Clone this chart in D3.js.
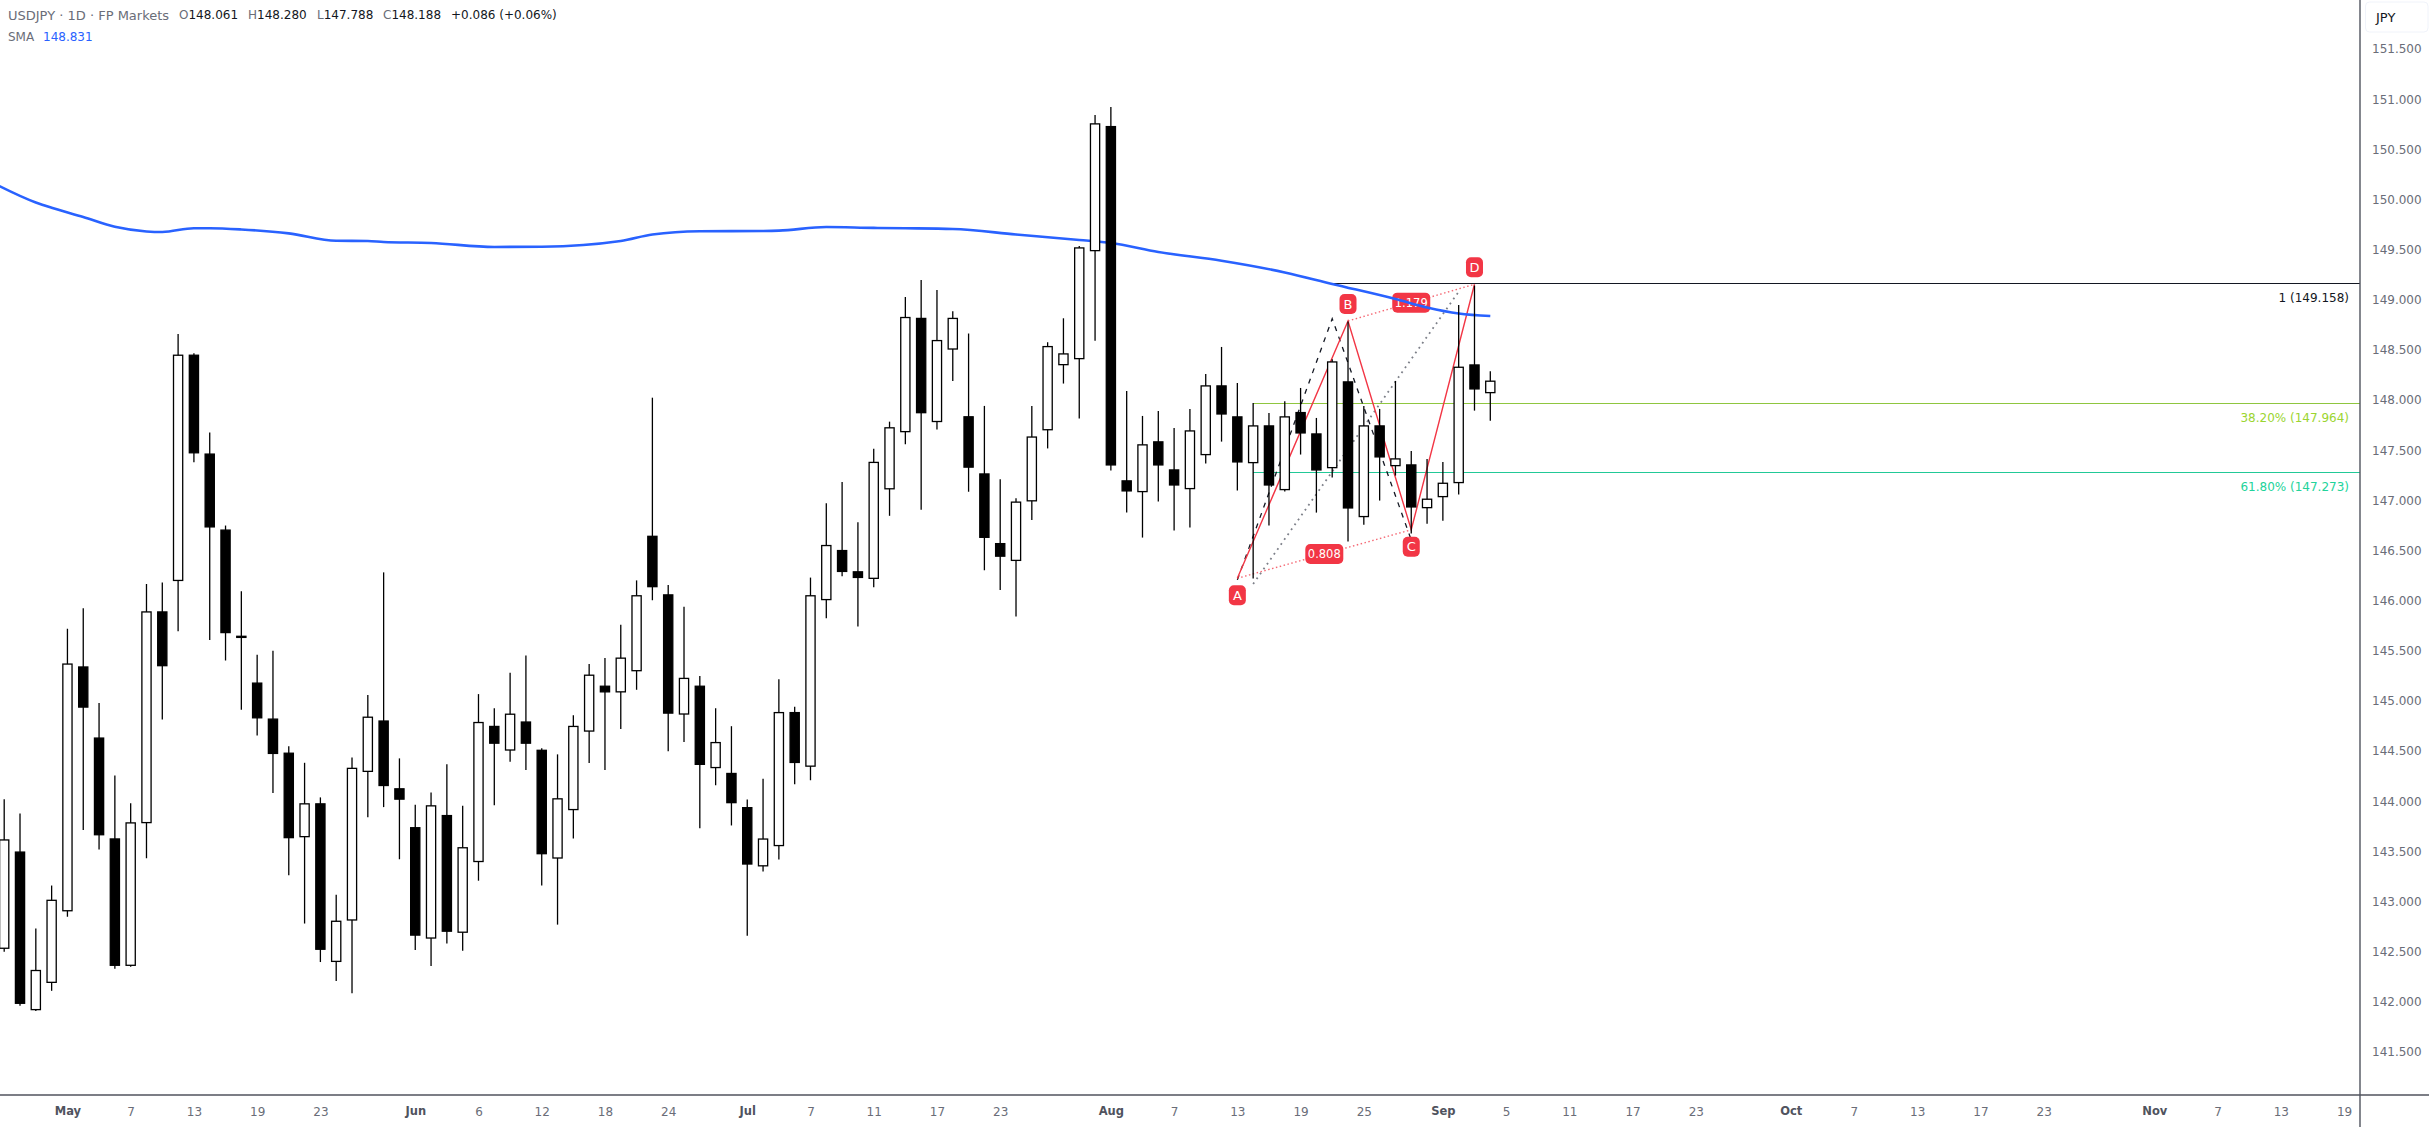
<!DOCTYPE html>
<html>
<head>
<meta charset="utf-8">
<script src="https://cdn.jsdelivr.net/npm/d3@7"></script>
<style>
  html, body { margin: 0; padding: 0; background: #fff; }
  svg { display: block; }
  text { font-family: "DejaVu Sans", sans-serif; }
</style>
</head>
<body>
<svg id="chart" width="2429" height="1127"></svg>
<script>
// daily candles
const opens = [142.520,143.492,141.908,142.180,142.894,145.338,144.629,143.623,142.350,143.773,145.887,146.188,148.447,147.461,146.703,145.644,145.177,144.818,144.478,143.633,143.973,142.389,142.802,144.284,144.799,144.123,143.735,142.622,143.856,142.680,143.385,144.745,144.497,144.789,144.507,143.420,143.903,144.686,145.146,145.077,145.288,146.641,146.057,144.856,145.146,144.322,144.276,143.935,143.342,143.544,144.883,144.336,145.997,146.499,146.287,146.209,147.102,147.672,148.814,147.773,148.496,147.833,147.263,146.568,146.388,146.982,147.691,148.340,148.400,149.477,150.727,147.194,147.074,147.583,147.303,147.104,147.443,148.141,147.832,147.363,147.742,147.094,147.875,147.662,147.313,148.181,146.825,147.742,147.333,147.353,146.914,147.024,147.164,148.350,148.061];
const highs = [144.012,143.871,142.724,143.152,145.712,145.916,144.973,144.250,143.973,146.159,146.173,148.651,148.461,147.670,146.742,146.086,145.454,145.493,144.541,144.376,144.031,143.059,144.429,145.051,146.275,144.420,143.958,144.080,144.361,143.948,145.061,144.920,145.275,145.445,144.522,144.460,144.851,145.362,145.422,145.753,146.195,148.017,146.149,145.933,145.242,144.920,144.741,144.009,144.216,145.210,144.934,146.223,146.964,147.175,146.775,147.507,147.778,149.021,149.191,149.090,148.878,148.657,147.935,147.203,147.014,147.935,148.570,148.809,149.530,150.837,150.916,148.084,147.835,147.885,147.715,147.905,148.254,148.523,148.164,147.965,147.865,147.981,148.114,147.815,148.400,148.776,147.935,147.905,148.184,147.486,147.406,147.376,148.942,149.135,148.280];
const lows = [142.491,141.952,141.900,142.102,142.841,143.705,143.511,142.321,142.341,143.424,144.808,145.688,147.373,145.600,145.396,144.905,144.648,144.075,143.254,142.773,142.389,142.199,142.078,143.832,143.934,143.414,142.510,142.350,142.574,142.501,143.200,143.953,144.386,144.303,143.152,142.762,143.622,144.373,144.304,144.713,145.104,145.997,144.492,144.584,143.724,144.152,143.751,142.651,143.291,143.411,144.161,144.202,145.818,146.236,145.735,146.126,146.839,147.553,146.899,147.700,148.183,147.079,146.296,146.098,145.836,146.798,147.511,148.158,147.809,148.586,147.290,146.871,146.622,146.981,146.692,146.722,147.360,147.579,147.091,146.213,146.742,147.081,147.450,146.871,147.220,146.582,146.751,146.991,147.240,146.662,146.761,146.791,147.051,147.888,147.788];
const closes = [143.613,141.971,142.311,143.011,145.367,144.925,143.652,142.350,143.783,145.887,145.338,148.447,147.461,146.722,145.668,145.620,144.818,144.463,143.623,143.973,142.510,142.802,144.327,144.837,144.143,144.007,142.651,143.953,142.690,143.535,144.784,144.565,144.867,144.565,143.463,144.023,144.745,145.256,145.077,145.426,146.048,146.126,144.865,145.224,144.354,144.584,143.972,143.360,143.622,144.883,144.373,146.048,146.549,146.278,146.218,147.378,147.723,148.823,147.861,148.593,148.814,147.318,146.618,146.430,146.982,147.631,148.533,148.460,149.517,150.754,147.340,147.081,147.553,147.340,147.140,147.692,148.141,147.848,147.370,147.742,147.140,147.832,147.659,147.290,148.380,146.911,147.742,147.420,147.413,146.921,147.011,147.170,148.327,148.098,148.188];

// SMA, read at these candle positions
const smaIndex = [-1,2,3,5,7,9,10,12,13,15,18,21,23,24,27,31,34,39,41,44,48,49,52,55,57,60,64,68,70,73,77,81,84,88,90,92,94];
const smaValues = [150.183,149.964,149.911,149.819,149.721,149.675,149.670,149.707,149.707,149.695,149.656,149.582,149.580,149.570,149.560,149.520,149.523,149.580,149.645,149.677,149.680,149.683,149.719,149.710,149.707,149.700,149.645,149.590,149.560,149.470,149.383,149.266,149.151,149.001,148.917,148.857,148.831];

const priceTicks = d3.range(141.5, 151.6, 0.5);

const timeIndex = [4,8,12,16,20,26,30,34,38,42,47,51,55,59,63,70,74,78,82,86,91,95,99,103,107,113,117,121,125,129,136,140,144,148];
const timeLabels = ["May","7","13","19","23","Jun","6","12","18","24","Jul","7","11","17","23","Aug","7","13","19","25","Sep","5","11","17","23","Oct","7","13","17","23","Nov","7","13","19"];
const monthNames = ["May","Jun","Jul","Aug","Sep","Oct","Nov"];

// harmonic pattern A B C D
const abcdNames = ["A","B","C","D"];
const abcdIndex = [78,85,89,93];
const abcdPrice = [146.216,148.782,146.700,149.148];
const abcdRatios = ["0.808","1.179"];

const dashIndex = [78,84,89];
const dashPrice = [146.200,148.805,146.598];
const greyIndex = [79,92];
const greyPrice = [146.159,149.074];

// fib levels
const fibLabels = ["1 (149.158)","38.20% (147.964)","61.80% (147.273)"];
const fibPrice = [149.158,147.964,147.273];
const fibStart = [84,79,79];
const fibColors = ["#131722","#8fc63f","#22c997"];
const fibTextColors = ["#131722","#9bd531","#22d39a"];

const width = 2429, height = 1127;
const paneRight = 2360, paneBottom = 1095;
const axisColor = "#50535e";
const red = "#f23645";

const svg = d3.select("#chart");
svg.append("defs").append("clipPath").attr("id", "pane")
  .append("rect").attr("width", paneRight).attr("height", paneBottom);

const x = d3.scaleLinear().domain([0, 94]).range([4.2, 1490.3]);
const y = d3.scaleLinear().domain([141.063, 151.983]).range([paneBottom, 0]);

const pane = svg.append("g").attr("clip-path", "url(#pane)");

// fib lines sit at the very back
fibPrice.forEach((p, i) => {
  pane.append("line")
    .attr("x1", x(fibStart[i])).attr("x2", paneRight)
    .attr("y1", y(p)).attr("y2", y(p))
    .attr("stroke", fibColors[i]).attr("stroke-width", 1)
    .attr("shape-rendering", "crispEdges");
  pane.append("text")
    .attr("x", paneRight - 11).attr("y", y(p) + 15).attr("dy", "0.35em")
    .attr("text-anchor", "end").attr("font-size", 12)
    .attr("fill", fibTextColors[i]).text(fibLabels[i]);
});

const pathLine = d3.line();
const toPts = (idx, vals) => idx.map((d, i) => [x(d), y(vals[i])]);

pane.append("path").attr("d", pathLine(toPts(greyIndex, greyPrice)))
  .attr("fill", "none").attr("stroke", "#7c7f88").attr("stroke-width", 1.8)
  .attr("stroke-dasharray", "1.8 4.2");
pane.append("path").attr("d", pathLine(toPts(dashIndex, dashPrice)))
  .attr("fill", "none").attr("stroke", "#131722").attr("stroke-width", 1.3)
  .attr("stroke-dasharray", "5 6");

// dotted legs A-C and B-D with their ratio boxes
[[0, 2], [1, 3]].forEach(([a, b], i) => {
  const pts = toPts([abcdIndex[a], abcdIndex[b]], [abcdPrice[a], abcdPrice[b]]);
  pane.append("path").attr("d", pathLine(pts))
    .attr("fill", "none").attr("stroke", red).attr("stroke-opacity", 0.75)
    .attr("stroke-width", 1.4).attr("stroke-dasharray", "1.5 2.5");
  const mx = (pts[0][0] + pts[1][0]) / 2, my = (pts[0][1] + pts[1][1]) / 2;
  pane.append("rect").attr("x", mx - 19).attr("y", my - 10).attr("width", 38).attr("height", 20)
    .attr("rx", 5).attr("fill", red);
  pane.append("text").attr("x", mx).attr("y", my).attr("dy", "0.36em")
    .attr("text-anchor", "middle").attr("font-size", 11.5).attr("fill", "#fff").text(abcdRatios[i]);
});

pane.append("path").attr("d", pathLine(toPts(abcdIndex, abcdPrice)))
  .attr("fill", "none").attr("stroke", red).attr("stroke-width", 1.4);

abcdNames.forEach((name, i) => {
  const off = (i % 2 === 0) ? 17 : -17;  // A and C hang below, B and D above
  const cx = x(abcdIndex[i]), cy = y(abcdPrice[i]) + off;
  pane.append("rect").attr("x", cx - 8.5).attr("y", cy - 10).attr("width", 17).attr("height", 20)
    .attr("rx", 5).attr("fill", red);
  pane.append("text").attr("x", cx).attr("y", cy).attr("dy", "0.36em")
    .attr("text-anchor", "middle").attr("font-size", 13).attr("fill", "#fff").text(name);
});

// SMA goes under the candles but over the drawings
pane.append("path")
  .attr("d", d3.line().x(d => x(d[0])).y(d => y(d[1])).curve(d3.curveMonotoneX)(smaIndex.map((d, i) => [d, smaValues[i]])))
  .attr("fill", "none").attr("stroke", "#2962ff").attr("stroke-width", 2.6);

// candles
const bodyW = 10.5, sw = 1.3;
const candles = pane.append("g").selectAll("g").data(opens).join("g");
candles.append("line")
  .attr("x1", (d, i) => x(i)).attr("x2", (d, i) => x(i))
  .attr("y1", (d, i) => y(highs[i])).attr("y2", (d, i) => y(lows[i]))
  .attr("stroke", "#000").attr("stroke-width", sw);
candles.append("rect")
  .attr("x", (d, i) => x(i) - bodyW / 2 + sw / 2)
  .attr("y", (d, i) => y(Math.max(opens[i], closes[i])) + sw / 2)
  .attr("width", bodyW - sw)
  .attr("height", (d, i) => Math.max(0.5, y(Math.min(opens[i], closes[i])) - y(Math.max(opens[i], closes[i])) - sw))
  .attr("fill", (d, i) => closes[i] >= opens[i] ? "#fff" : "#000")
  .attr("stroke", "#000").attr("stroke-width", sw);

// axes
const yAxis = d3.axisRight(y).tickValues(priceTicks).tickSize(0).tickPadding(0).tickFormat(d3.format(".3f"));
svg.append("g").attr("transform", `translate(2372,0.7)`).call(yAxis)
  .call(g => g.select(".domain").remove())
  .call(g => g.selectAll("text").attr("font-size", 12).attr("fill", "#6a6d78").attr("font-family", "DejaVu Sans"));

const xAxis = d3.axisBottom(x).tickValues(timeIndex).tickSize(0).tickPadding(12)
  .tickFormat((d, i) => timeLabels[i]);
svg.append("g").attr("transform", `translate(0,${paneBottom})`).call(xAxis)
  .call(g => g.select(".domain").remove())
  .call(g => g.selectAll("text").attr("font-family", "DejaVu Sans")
    .attr("font-size", (d, i) => monthNames.includes(timeLabels[i]) ? 11.5 : 12)
    .attr("fill", (d, i) => monthNames.includes(timeLabels[i]) ? "#50535e" : "#6a6d78")
    .attr("font-weight", (d, i) => monthNames.includes(timeLabels[i]) ? "bold" : "normal"));

svg.append("line").attr("x1", 0).attr("x2", width).attr("y1", paneBottom).attr("y2", paneBottom)
  .attr("stroke", axisColor).attr("stroke-width", 1.4);
svg.append("line").attr("x1", paneRight).attr("x2", paneRight).attr("y1", 0).attr("y2", height)
  .attr("stroke", axisColor).attr("stroke-width", 1.4);

// currency box
svg.append("rect").attr("x", 2365.5).attr("y", 2).attr("width", 62.5).attr("height", 30)
  .attr("rx", 4).attr("fill", "#fff").attr("stroke", "#f0f3fa").attr("stroke-width", 1);
svg.append("text").attr("x", 2376).attr("y", 17).attr("dy", "0.36em")
  .attr("font-size", 13).attr("fill", "#131722").text("JPY");

// legend, top left
const grey = "#6a6d78", dark = "#131722";
const legendRow1 = [
  { x: 8, size: 13, parts: [["USDJPY · 1D · FP Markets", grey]] },
  { x: 179, size: 12, parts: [["O", grey], ["148.061", dark]] },
  { x: 248, size: 12, parts: [["H", grey], ["148.280", dark]] },
  { x: 317, size: 12, parts: [["L", grey], ["147.788", dark]] },
  { x: 383, size: 12, parts: [["C", grey], ["148.188", dark]] },
  { x: 451, size: 12, parts: [["+0.086 (+0.06%)", dark]] }
];
legendRow1.forEach(item => {
  const t = svg.append("text").attr("x", item.x).attr("y", 15).attr("dy", "0.36em").attr("font-size", item.size);
  item.parts.forEach(p => t.append("tspan").attr("fill", p[1]).text(p[0]));
});
svg.append("text").attr("x", 8).attr("y", 36.7).attr("dy", "0.36em").attr("font-size", 12).attr("fill", grey).text("SMA");
svg.append("text").attr("x", 43).attr("y", 36.7).attr("dy", "0.36em").attr("font-size", 12).attr("fill", "#2962ff").text("148.831");
</script>
</body>
</html>
